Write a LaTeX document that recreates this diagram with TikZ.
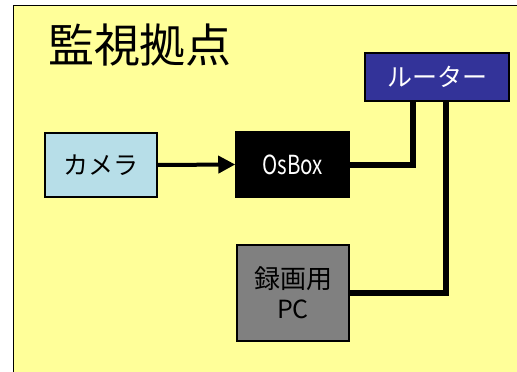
\documentclass[tikz,border=0pt]{standalone}
\usepackage{fontspec}
\setmainfont{Liberation Sans}
\newfontfamily\jpfont{Noto Sans CJK JP}
\usetikzlibrary{arrows.meta}
\definecolor{siteyellow}{HTML}{FFFF99}
\definecolor{camblue}{HTML}{B7DEE8}
\definecolor{routerblue}{HTML}{333399}
\definecolor{pcgray}{HTML}{808080}
\tikzset{
  devbox/.style={draw=black, line width=1.5pt, inner sep=0pt, align=center, font=\jpfont\fontsize{25}{29}\selectfont},
  cable/.style={line width=6pt, line join=miter}
}

\begin{document}
\begin{tikzpicture}[x=1pt, y=-1pt]
  \useasboundingbox (0,0) rectangle (517,372);
  \begin{scope}
    \clip (0,0) rectangle (517,372);
    \filldraw [color=black, fill=siteyellow, line width=1pt] (13,5) -- (540,5) -- (540,400) -- (13,400) -- cycle;
  \end{scope}
  \node (title) at (140,45) {\jpfont\fontsize{46}{52}\selectfont 監視拠点};
  \node [devbox, fill=camblue, minimum width=112pt, minimum height=64pt] (camera) at (101,165) {カメラ};
  \node [devbox, fill=black, text=white, minimum width=113pt, minimum height=65pt] (osbox) at (292.5,164.5) {\scalebox{0.82}[1.05]{OsBox}};
  \node [devbox, fill=routerblue, text=white, minimum width=144pt, minimum height=48pt, font=\jpfont\fontsize{25}{29}\selectfont] (router) at (437,77) {ルーター};
  \node [devbox, fill=pcgray, minimum width=112pt, minimum height=96pt, font=\jpfont\fontsize{26}{30}\selectfont] (pc) at (293,293) {録画用\\{\fontsize{25}{29}\selectfont PC}};
  \draw [-{Triangle[length=17pt, width=17pt]}, line width=4pt] (camera.east) -- (osbox.west);
  \draw [cable] (osbox.east) -| ([xshift=-24pt]router.south);
  \draw [cable] (pc.east) -| ([xshift=9pt]router.south);
\end{tikzpicture}
\end{document}
